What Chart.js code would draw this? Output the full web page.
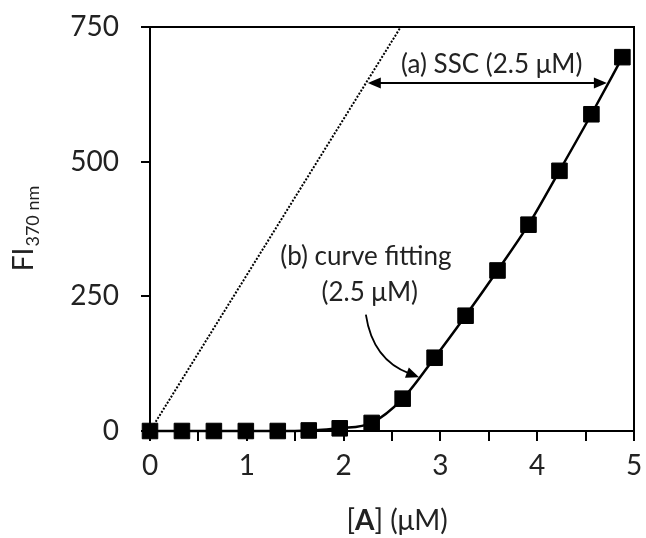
<!DOCTYPE html>
<html>
<head>
<meta charset="utf-8">
<script src="https://cdn.jsdelivr.net/npm/chart.js@4.4.1/dist/chart.umd.min.js"></script>
<style>
  html, body { margin: 0; padding: 0; background: #fff; }
  #wrap { width: 646px; height: 538px; }
</style>
</head>
<body>
<div id="wrap"><canvas id="fichart" width="646" height="538"></canvas></div>
<script>
var concA  = [0, 0.33, 0.66, 0.99, 1.32, 1.64, 1.96, 2.29, 2.61, 2.94, 3.26, 3.59, 3.91, 4.23, 4.56, 4.88];
var fi370  = [0, 0, 0, 0, 0, 1, 5, 15, 60, 136, 214, 298, 383, 483, 588, 694];
// stoichiometric line (dotted)
var sscX   = [0, 2.59];
var sscY   = [0, 750];
// ticks
var xTickMarks  = [0, 0.5, 1, 1.5, 2, 2.5, 3, 3.5, 4, 4.5, 5];
var xTickLabels = ['0', '', '1', '', '2', '', '3', '', '4', '', '5'];
var yTickMarks  = [0, 250, 500, 750];
var yTickLabels = ['0', '250', '500', '750'];

var FONT = 'Lato';
var TXT = '#222';

function toPts(xs, ys) {
  return xs.map(function (x, i) { return { x: x, y: ys[i] }; });
}

function arrowHead(ctx, x, y, ang, len, half) {
  ctx.save();
  ctx.translate(x, y);
  ctx.rotate(ang);
  ctx.beginPath();
  ctx.moveTo(0, 0);
  ctx.lineTo(-len, -half);
  ctx.lineTo(-len, half);
  ctx.closePath();
  ctx.fill();
  ctx.restore();
}

var extras = {
  id: 'extras',
  afterDatasetsDraw: function (chart) {
    var ctx = chart.ctx, a = chart.chartArea;
    var sx = chart.scales.x, sy = chart.scales.y;
    function px(v) { return sx.getPixelForValue(v); }
    function py(v) { return sy.getPixelForValue(v); }
    ctx.save();
    // top and right frame
    ctx.strokeStyle = '#000';
    ctx.lineWidth = 2;
    ctx.beginPath();
    ctx.moveTo(a.left, a.top);
    ctx.lineTo(a.right, a.top);
    ctx.lineTo(a.right, a.bottom);
    ctx.stroke();

    ctx.fillStyle = '#000';
    // (a) double arrow
    var y0 = py(646), xa = px(2.25), xb = px(4.72);
    ctx.lineWidth = 2;
    ctx.beginPath();
    ctx.moveTo(xa + 10, y0);
    ctx.lineTo(xb - 10, y0);
    ctx.stroke();
    arrowHead(ctx, xa, y0, Math.PI, 13, 5.5);
    arrowHead(ctx, xb, y0, 0, 13, 5.5);

    // (b) curved arrow
    var s0x = px(2.23), s0y = py(216);
    var cx = px(2.30), cy = py(132);
    var ex = px(2.78), ey = py(100);
    var ang = Math.atan2(ey - cy, ex - cx);
    ctx.lineWidth = 1.8;
    ctx.beginPath();
    ctx.moveTo(s0x, s0y);
    ctx.quadraticCurveTo(cx, cy, ex - 10 * Math.cos(ang), ey - 10 * Math.sin(ang));
    ctx.stroke();
    arrowHead(ctx, ex, ey, ang, 13, 5.5);

    // annotation texts
    ctx.fillStyle = TXT;
    ctx.font = '26px ' + FONT;
    ctx.textAlign = 'center';
    ctx.textBaseline = 'middle';
    ctx.fillText('(a) SSC (2.5 \u03bcM)', px(3.53), py(681));
    ctx.fillText('(b) curve fitting', px(2.23), py(324));
    ctx.fillText('(2.5 \u03bcM)', px(2.27), py(257));

    // x axis title: [A] (uM), A in bold
    var parts = [['[', '28px '], ['A', 'bold 28px '], ['] (\u03bcM)', '28px ']];
    var w = 0;
    parts.forEach(function (p) { ctx.font = p[1] + FONT; w += ctx.measureText(p[0]).width; });
    var tx = 397 - w / 2;
    ctx.textAlign = 'left';
    parts.forEach(function (p) {
      ctx.font = p[1] + FONT;
      ctx.fillText(p[0], tx, 521);
      tx += ctx.measureText(p[0]).width;
    });

    // y axis title: FI with subscript 370 nm
    ctx.save();
    ctx.translate(33, 229);
    ctx.rotate(-Math.PI / 2);
    ctx.textBaseline = 'alphabetic';
    ctx.font = '28px ' + FONT;
    var w1 = ctx.measureText('FI').width;
    ctx.font = '18px ' + FONT;
    var w2 = ctx.measureText('370 nm').width;
    var st = -(w1 + w2) / 2;
    ctx.font = '28px ' + FONT;
    ctx.fillText('FI', st, 0);
    ctx.font = '18px ' + FONT;
    ctx.fillText('370 nm', st + w1 + 1, 6);
    ctx.restore();

    ctx.restore();
  }
};

new Chart(document.getElementById('fichart'), {
  type: 'scatter',
  data: {
    datasets: [{
      label: 'FI',
      data: toPts(concA, fi370),
      showLine: true,
      cubicInterpolationMode: 'monotone',
      borderColor: '#000',
      borderWidth: 2.5,
      backgroundColor: '#000',
      pointStyle: 'rect',
      pointRadius: 11,
      pointBorderWidth: 1,
      clip: false,
      order: 1
    }, {
      label: 'SSC',
      data: toPts(sscX, sscY),
      showLine: true,
      borderColor: '#000',
      borderWidth: 2,
      borderDash: [2, 1.6],
      pointRadius: 0,
      order: 2
    }]
  },
  options: {
    responsive: false,
    animation: false,
    layout: { padding: { top: 27, right: 8, left: 0, bottom: 0 } },
    plugins: {
      legend: { display: false },
      tooltip: { enabled: false }
    },
    scales: {
      x: {
        type: 'linear',
        min: 0, max: 5,
        afterBuildTicks: function (s) { s.ticks = xTickMarks.map(function (v) { return { value: v }; }); },
        afterFit: function (s) { s.height = 107; s.paddingLeft = 0; s.paddingRight = 0; },
        ticks: {
          autoSkip: false,
          maxRotation: 0,
          padding: 8,
          color: TXT,
          font: { family: FONT, size: 28 },
          callback: function (v, i) { return xTickLabels[i]; }
        },
        grid: { drawOnChartArea: false, drawTicks: true, tickLength: 10, color: '#000', lineWidth: 2 },
        border: { display: true, color: '#000', width: 2 }
      },
      y: {
        min: 0, max: 750,
        afterBuildTicks: function (s) { s.ticks = yTickMarks.map(function (v) { return { value: v }; }); },
        afterFit: function (s) { s.width = 150; s.paddingTop = 0; s.paddingBottom = 0; },
        ticks: {
          padding: 22,
          color: TXT,
          font: { family: FONT, size: 28 },
          callback: function (v, i) { return yTickLabels[i]; }
        },
        grid: { drawOnChartArea: false, drawTicks: true, tickLength: 9, color: '#000', lineWidth: 2 },
        border: { display: true, color: '#000', width: 2 }
      }
    }
  },
  plugins: [extras]
});
</script>
</body>
</html>
